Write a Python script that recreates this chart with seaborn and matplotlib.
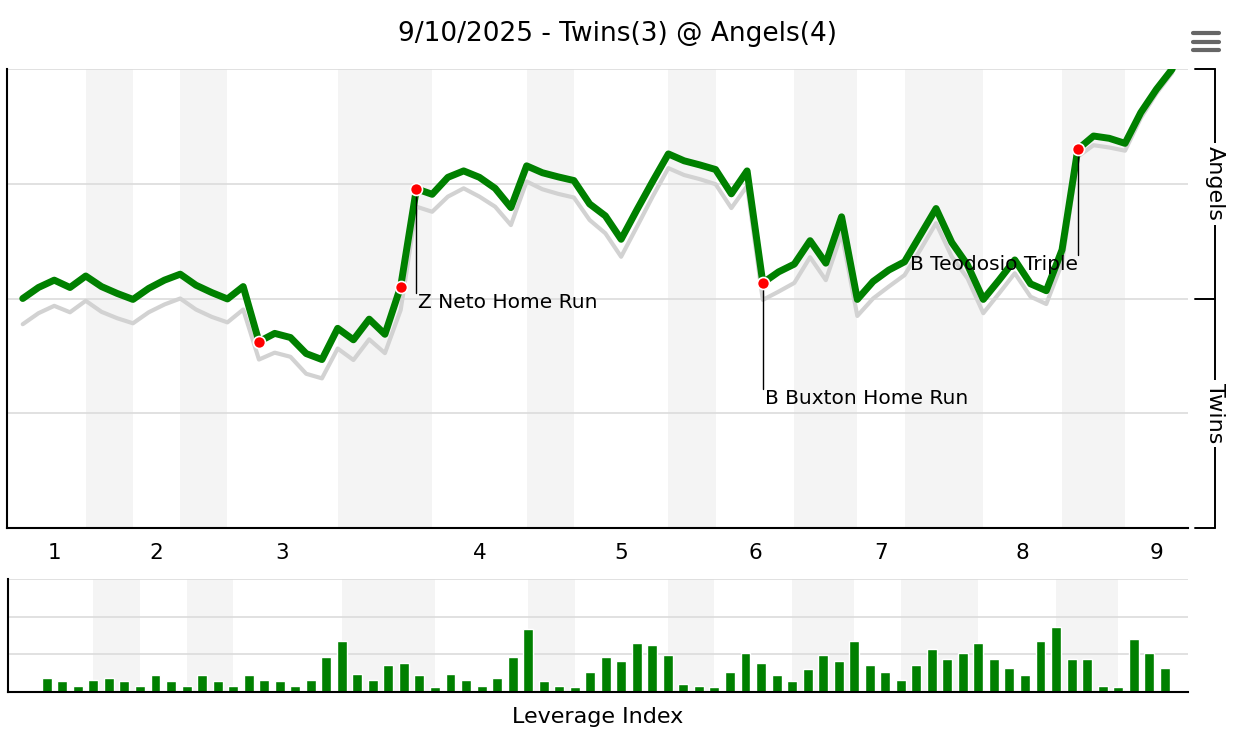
import matplotlib.pyplot as plt
import numpy as np
import pandas as pd
import seaborn as sns
from matplotlib.lines import Line2D
from matplotlib.transforms import blended_transform_factory

sns.set_style("white")
plt.rcParams["font.family"] = ["DejaVu Sans"]
plt.rcParams["text.color"] = "black"
plt.rcParams["axes.labelcolor"] = "black"
plt.rcParams["xtick.color"] = "black"
plt.rcParams["ytick.color"] = "black"

title = "9/10/2025 - Twins(3) @ Angels(4)"
home_team = "Angels"
away_team = "Twins"

# home win probability after each play (play 0 = first pitch)
win_prob = [
    0.500, 0.524, 0.540, 0.524, 0.549, 0.526, 0.511, 0.498, 0.522, 0.540,
    0.553, 0.529, 0.513, 0.499, 0.526, 0.406, 0.424, 0.415, 0.380, 0.367,
    0.435, 0.410, 0.455, 0.422, 0.526, 0.739, 0.727, 0.764, 0.778, 0.764,
    0.740, 0.698, 0.789, 0.774, 0.765, 0.757, 0.706, 0.680, 0.629, 0.693,
    0.755, 0.815, 0.800, 0.791, 0.781, 0.728, 0.778, 0.534, 0.558, 0.575,
    0.626, 0.577, 0.678, 0.498, 0.537, 0.562, 0.580, 0.638, 0.696, 0.622,
    0.573, 0.498, 0.540, 0.584, 0.532, 0.517, 0.606, 0.825, 0.854, 0.849,
    0.838, 0.905, 0.956, 1.000,
]

# grey reference line drawn under the main one
win_prob_ref = [
    0.444, 0.468, 0.484, 0.470, 0.495, 0.471, 0.457, 0.446, 0.470, 0.487,
    0.500, 0.476, 0.460, 0.448, 0.476, 0.367, 0.382, 0.373, 0.336, 0.326,
    0.391, 0.366, 0.411, 0.381, 0.475, 0.700, 0.689, 0.722, 0.740, 0.722,
    0.700, 0.660, 0.755, 0.738, 0.728, 0.720, 0.671, 0.642, 0.591, 0.656,
    0.722, 0.784, 0.769, 0.760, 0.749, 0.697, 0.745, 0.497, 0.515, 0.534,
    0.590, 0.540, 0.642, 0.462, 0.500, 0.526, 0.551, 0.606, 0.664, 0.591,
    0.544, 0.468, 0.511, 0.555, 0.504, 0.488, 0.577, 0.809, 0.834, 0.829,
    0.822, 0.893, 0.947, 0.992,
]

# leverage index of plays 1..73
leverage = [
    0.38, 0.28, 0.17, 0.33, 0.38, 0.28, 0.17, 0.44, 0.28, 0.17,
    0.44, 0.28, 0.17, 0.44, 0.33, 0.28, 0.17, 0.33, 0.92, 1.35,
    0.49, 0.33, 0.71, 0.76, 0.44, 0.12, 0.49, 0.33, 0.17, 0.38,
    0.92, 1.67, 0.28, 0.17, 0.12, 0.54, 0.92, 0.81, 1.29, 1.24,
    0.97, 0.22, 0.17, 0.12, 0.54, 1.03, 0.76, 0.44, 0.28, 0.60,
    0.97, 0.81, 1.35, 0.71, 0.54, 0.33, 0.71, 1.13, 0.87, 1.03,
    1.29, 0.87, 0.65, 0.44, 1.35, 1.72, 0.87, 0.87, 0.17, 0.12,
    1.40, 1.03, 0.65,
]

# play numbers where each half inning starts (last one = end of game)
half_inning_edges = [0, 4, 7, 10, 13, 20, 26, 32, 35, 41, 44, 49, 53, 56, 61, 66, 70, 74]
inning_labels = ["1", "2", "3", "4", "5", "6", "7", "8", "9"]

key_plays = [15, 24, 25, 47, 67]
note_plays = [25, 47, 67]
note_texts = ["Z Neto Home Run", "B Buxton Home Run", "B Teodosio Triple"]

wp = pd.DataFrame({"play": np.arange(len(win_prob)), "wp": win_prob, "ref": win_prob_ref})
li = pd.DataFrame({"play": np.arange(1, len(leverage) + 1), "li": leverage})

GREEN = "#008000"
BAND = "#f4f4f4"
GRID = "#d9d9d9"

W, H = 1242, 733


def px_box(left, top, right, bottom):
    return [left / W, 1 - bottom / H, (right - left) / W, (bottom - top) / H]


fig = plt.figure(figsize=(W / 100, H / 100), dpi=100)
ax = fig.add_axes(px_box(7, 69, 1188, 528))
ax2 = fig.add_axes(px_box(8, 579, 1188, 692))

# shaded bottom halves
bottom_halves = list(zip(half_inning_edges[1::2], half_inning_edges[2::2]))
for a in (ax, ax2):
    for s, e in bottom_halves:
        a.axvspan(s, e, color=BAND, lw=0, zorder=0)
    a.set_axisbelow(True)
    a.yaxis.grid(True, color=GRID, lw=1.1)
    for side in ["top", "right"]:
        a.spines[side].set_visible(False)
    for side in ["left", "bottom"]:
        a.spines[side].set_color("black")
        a.spines[side].set_linewidth(1.5)
    a.tick_params(length=0)
    a.set_yticklabels([])

# win probability
sns.lineplot(data=wp, x="play", y="ref", color="#d2d2d2", lw=3, ax=ax, zorder=2,
             solid_joinstyle="round")
sns.lineplot(data=wp, x="play", y="wp", color=GREEN, lw=5, ax=ax, zorder=3,
             solid_joinstyle="round", solid_capstyle="round")

note_levels = [0.512, 0.303, 0.595]
note_align = ["left", "left", "right"]
for play, text, level, ha in zip(note_plays, note_texts, note_levels, note_align):
    ax.plot([play, play], [win_prob[play], level], color="black", lw=1, zorder=3.5)
    dx = 1.5 if ha == "left" else 0.5
    ax.annotate(text, xy=(play, level), xytext=(dx, 0), textcoords="offset points",
                ha=ha, va="top", fontsize=14.5, zorder=5)

sns.scatterplot(data=wp.loc[key_plays], x="play", y="wp", color="red",
                edgecolor="white", linewidth=1.2, s=75, ax=ax, zorder=4)

ax.set_xlim(-1, 74)
ax.set_ylim(0, 1)
ax.set_yticks([0.25, 0.5, 0.75, 1.0])
top_halves = list(zip(half_inning_edges[0::2], half_inning_edges[1::2]))
ax.set_xticks([(s + e) / 2 for s, e in top_halves])
ax.set_xticklabels(inning_labels)
ax.tick_params(axis="x", labelsize=15.5, pad=11)
ax.set_xlabel("")
ax.set_ylabel("")

# team bracket on the right
tr = blended_transform_factory(ax.transAxes, ax.transData)
xb = (1215 - 7) / 1181
xt = (1195 - 7) / 1181
ax.plot([xb, xb], [0, 1], color="black", lw=1.4, transform=tr, clip_on=False)
for yv in [0, 0.5, 1]:
    ax.plot([xt, xb], [yv, yv], color="black", lw=1.4, transform=tr, clip_on=False)
for name, yv in [(home_team, 0.75), (away_team, 0.25)]:
    ax.text(xb, yv, name, rotation=270, ha="center", va="center", fontsize=16,
            transform=tr, bbox=dict(facecolor="white", edgecolor="none", pad=2.5))

# leverage index
sns.barplot(data=li, x="play", y="li", native_scale=True, color=GREEN,
            saturation=1, width=0.64, ax=ax2, zorder=2)
ax2.set_xlim(-1.5, 74.5)
ax2.set_ylim(0, 3)
ax2.set_yticks([1, 2, 3])
ax2.set_xticks([])
ax2.set_ylabel("")
ax2.set_xlabel("Leverage Index", fontsize=16, labelpad=11)

fig.text(618 / W, 1 - 41 / H, title, ha="center", va="baseline", fontsize=19)

# menu icon
for yv in [33, 41.5, 50]:
    fig.add_artist(Line2D([1193 / W, 1219 / W], [1 - yv / H, 1 - yv / H],
                          transform=fig.transFigure, color="#666666", lw=3,
                          solid_capstyle="round"))

plt.savefig("out.png", dpi=100)
